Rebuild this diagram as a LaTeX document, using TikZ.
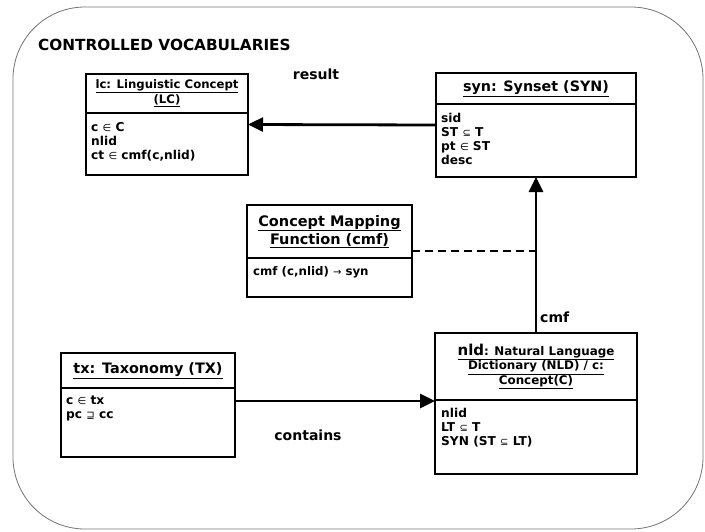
\documentclass[tikz,border=0pt]{standalone}
\usepackage{fontspec}
\setmainfont{DejaVu Sans}
\usetikzlibrary{arrows.meta}

% small, light relation symbols inside attribute lists
\newcommand\symop[1]{{\fontsize{10}{10}\selectfont\mdseries #1}}

\begin{document}
\begin{tikzpicture}[x=1pt,y=-1pt,
  frame/.style={draw=black!55, line width=0.8pt, rounded corners=72pt},
  classbox/.style={draw, line width=2.5pt, inner sep=0pt, outer sep=0pt},
  divider/.style={line width=2.5pt},
  hdr/.style={align=center, inner sep=0pt},
  attrs/.style={align=left, anchor=north west, inner sep=0pt,
    font=\fontsize{12.2}{14}\selectfont\bfseries},
  link/.style={line width=2.8pt, -{Triangle[length=15pt,width=14pt]}},
  weak/.style={line width=2.6pt, dash pattern=on 8pt off 5pt},
  lbl/.style={font=\fontsize{14}{16}\selectfont\bfseries, inner sep=0pt}
]
\useasboundingbox (0,0) rectangle (705,531);

% surrounding package frame
\draw[frame] (13,7) rectangle (703,529);
\node[anchor=west, inner sep=0pt, font=\fontsize{15.3}{18}\selectfont\bfseries]
  (title) at (38,45) {CONTROLLED VOCABULARIES};

% class boxes
\node[classbox, minimum width=162pt, minimum height=101pt] (lc)  at (167,124.5) {};
\node[classbox, minimum width=200pt, minimum height=104pt] (syn) at (536,125) {};
\node[classbox, minimum width=165pt, minimum height=92pt]  (cmf) at (329.5,251) {};
\node[classbox, minimum width=202pt, minimum height=141pt] (nld) at (536,403.5) {};
\node[classbox, minimum width=174pt, minimum height=104pt] (tx)  at (148,405) {};

% compartment dividers
\draw[divider] (lc.west |- 0,113)  -- (lc.east |- 0,113);
\draw[divider] (syn.west |- 0,104) -- (syn.east |- 0,104);
\draw[divider] (cmf.west |- 0,258) -- (cmf.east |- 0,258);
\draw[divider] (nld.west |- 0,400) -- (nld.east |- 0,400);
\draw[divider] (tx.west |- 0,388)  -- (tx.east |- 0,388);

% class names
\node[hdr, font=\fontsize{11.7}{15}\selectfont\bfseries] (lch) at (167,93.5)
  {\underline{lc: Linguistic Concept}\\\underline{(LC)}};
\node[hdr, font=\fontsize{14.3}{17}\selectfont\bfseries] (synh) at (536,88.5)
  {\underline{syn: Synset (SYN)}};
\node[hdr, font=\fontsize{14.5}{18}\selectfont\bfseries] (cmfh) at (329.5,231.5)
  {\underline{Concept Mapping}\\\underline{Function (cmf)}};
\node[hdr, font=\fontsize{11.9}{14.5}\selectfont\bfseries] (nldh) at (536,366.5)
  {\underline{{\fontsize{15}{14.5}\selectfont nld}: Natural Language}\\
   \underline{Dictionary (NLD) / c:}\\\underline{Concept(C)}};
\node[hdr, font=\fontsize{14.4}{17}\selectfont\bfseries] (txh) at (148,370.5)
  {\underline{tx: Taxonomy (TX)}};

% attributes
\node[attrs] (lca)  at (91,122.5)  {c \symop{∈} C\\nlid\\ct \symop{∈} cmf(c,nlid)};
\node[attrs] (syna) at (441,113.5) {sid\\ST \symop{⊆} T\\pt \symop{∈} ST\\desc};
\node[attrs, font=\fontsize{11.8}{14}\selectfont\bfseries] (cmfa) at (253,266.5)
  {cmf (c,nlid) \symop{→} syn};
\node[attrs] (nlda) at (441,408) {nlid\\LT \symop{⊆} T\\SYN (ST \symop{⊆} LT)};
\node[attrs] (txa)  at (66,396)  {c \symop{∈} tx\\pc \symop{⊒} cc};

% associations
\coordinate (nldport) at ([yshift=2.5pt]nld.west);
\draw[link] (syn.west) -- (lc.east);
\draw[link] (nld.north) -- (syn.south);
\draw[link] (tx.east |- nldport) -- (nldport);
\draw[weak] (cmf.east) -- (cmf.east -| nld.north);

% association labels
\node[lbl] (resultlbl) at (316,74) {result};
\node[lbl] (containslbl) at (308,435) {contains};
\node[lbl, anchor=west] (cmflbl) at (540,317) {cmf};
\end{tikzpicture}
\end{document}
